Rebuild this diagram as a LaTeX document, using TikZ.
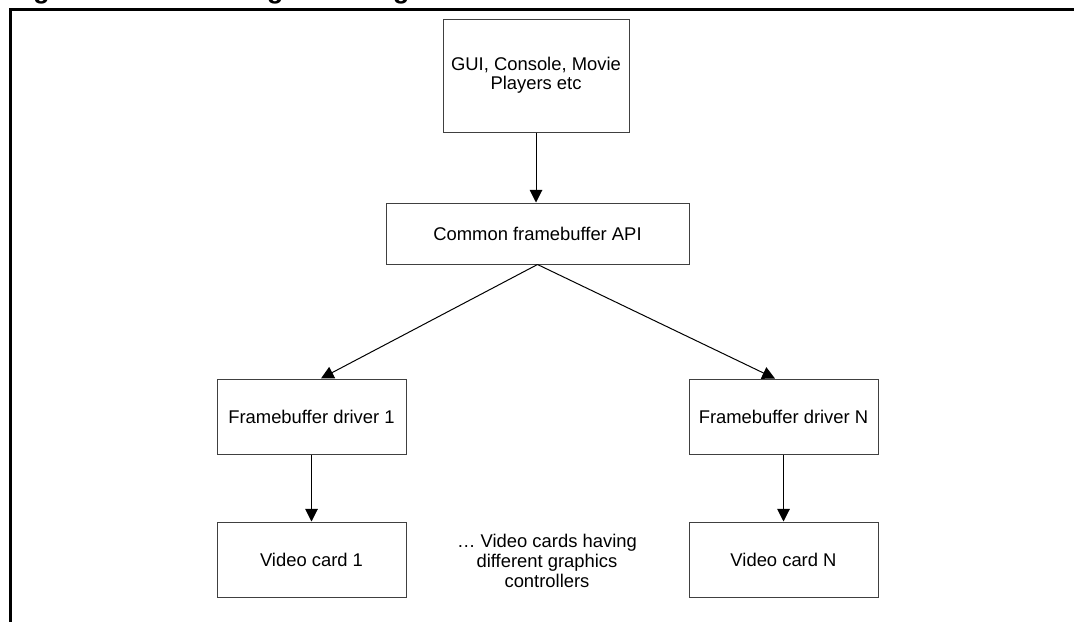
\documentclass[tikz,border=0pt]{standalone}
\usepackage{fontspec}
\setmainfont{Liberation Sans}
\usetikzlibrary{arrows.meta,calc}
\begin{document}
\begin{tikzpicture}[x=0.75pt,y=-0.75pt,
  box/.style={draw=black!75,line width=0.75pt,inner sep=2pt,align=center,
    font=\fontsize{13.8}{14.4}\selectfont},
  arr/.style={draw=black,line width=0.75pt,-{Triangle[length=9.5pt,width=9.5pt]}},
  note/.style={align=center,inner sep=0pt,font=\fontsize{13.8}{15}\selectfont},
  title/.style={anchor=base west,inner sep=0pt,font=\bfseries\fontsize{20}{24}\selectfont}]
\useasboundingbox (0,0) rectangle (1074,621);
% clipped title (only its lower part shows)
\begin{scope}
  \clip (0,0) rectangle (1074,8);
  \node[title] (fig) at (9.3,-1.5) {Figure 6.};
  \node[title] (ttl) at (161.7,-1.5) {Advantage of using the framebuffer architecture};
\end{scope}
% frame
\draw[line width=1.9pt] (1080,9.7) -- (10.7,9.7) -- (10.7,630);
% boxes
\node[box,minimum width=139.5pt,minimum height=84.75pt] (app) at (536,75.5) {GUI, Console, Movie\\Players etc};
\node[box,minimum width=227.25pt,minimum height=45.75pt] (api) at (537.5,233.5) {Common framebuffer API};
\node[box,minimum width=141.75pt,minimum height=56.25pt] (d1) at (311.5,416.5) {Framebuffer driver 1};
\node[box,minimum width=141.75pt,minimum height=56.25pt] (dn) at (783.5,416.5) {Framebuffer driver N};
\node[box,minimum width=141.75pt,minimum height=56.25pt] (v1) at (311.5,559.5) {Video card 1};
\node[box,minimum width=141.75pt,minimum height=56.25pt] (vn) at (783.5,559.5) {Video card N};
\node[note] (txt) at (547,561) {\dots\ Video cards having\\different graphics\\controllers};
% connectors
\draw[arr] (app.south) -- (app.south |- api.north);
\draw[arr] (api.south) -- ([xshift=7.1pt]d1.north);
\draw[arr] (api.south) -- ([xshift=-6.4pt]dn.north);
\draw[arr] (d1.south) -- (v1.north);
\draw[arr] (dn.south) -- (vn.north);
\end{tikzpicture}
\end{document}
